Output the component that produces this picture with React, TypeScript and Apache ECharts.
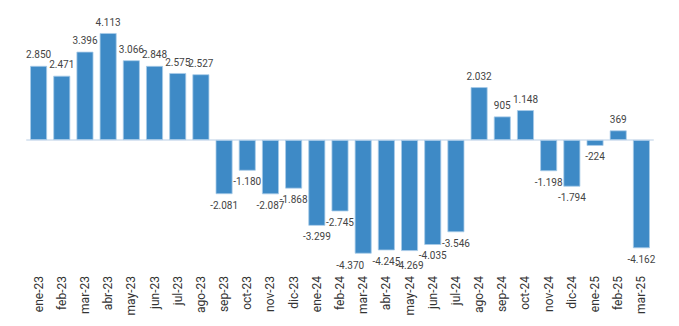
import React, { useEffect, useRef } from "react";
import * as echarts from "echarts";

const categories = [
  "ene-23", "feb-23", "mar-23", "abr-23", "may-23", "jun-23", "jul-23", "ago-23",
  "sep-23", "oct-23", "nov-23", "dic-23", "ene-24", "feb-24", "mar-24", "abr-24",
  "may-24", "jun-24", "jul-24", "ago-24", "sep-24", "oct-24", "nov-24", "dic-24",
  "ene-25", "feb-25", "mar-25",
];

const values = [
  2850, 2471, 3396, 4113, 3066, 2848, 2575, 2527,
  -2081, -1180, -2087, -1868, -3299, -2745, -4370, -4245,
  -4269, -4035, -3546, 2032, 905, 1148, -1198, -1794,
  -224, 369, -4162,
];

const fmt = (v: number) => {
  const s = Math.abs(v).toString().replace(/\B(?=(\d{3})+(?!\d))/g, ".");
  return (v < 0 ? "-" : "") + s;
};

export default function App() {
  const ref = useRef<HTMLDivElement>(null);
  useEffect(() => {
    if (!ref.current) return;
    const chart = echarts.init(ref.current, null, { renderer: "svg" });
    chart.setOption({
      animation: false,
      grid: { left: 27, right: 26, top: 10, bottom: 56 },
      xAxis: {
        type: "category",
        data: categories,
        axisLine: { show: true, lineStyle: { color: "#dde7f2", width: 2 } },
        axisTick: { show: false },
        axisLabel: {
          rotate: 90,
          interval: 0,
          color: "#333",
          fontSize: 12,
          fontFamily: "Roboto, Arial, sans-serif",
          margin: 6,
        },
      },
      yAxis: {
        type: "value",
        min: -5000,
        max: 5000,
        show: false,
        splitLine: { show: false },
      },
      series: [
        {
          type: "bar",
          barWidth: "73%",
          data: values.map((v) => ({
            value: v,
            label: { position: v < 0 ? "bottom" : "top" },
          })),
          itemStyle: { color: "#3e8ac6", borderColor: "#a8cbe8", borderWidth: 0.8 },
          label: {
            show: true,
            distance: 6,
            color: "#444",
            fontSize: 10,
            fontFamily: "Roboto, Arial, sans-serif",
            formatter: (p: any) => fmt(p.value),
          },
          labelLayout: (p: any) => {
            if (p.dataIndex === 14) return { dx: -13, dy: 1 };
            if (p.dataIndex === 16) return { dy: 4 };
            return {};
          },
        },
      ],
    });
    return () => chart.dispose();
  }, []);
  return (
    <div
      ref={ref}
      style={{ position: "absolute", left: 0, top: 0, width: 679, height: 326 }}
    />
  );
}
